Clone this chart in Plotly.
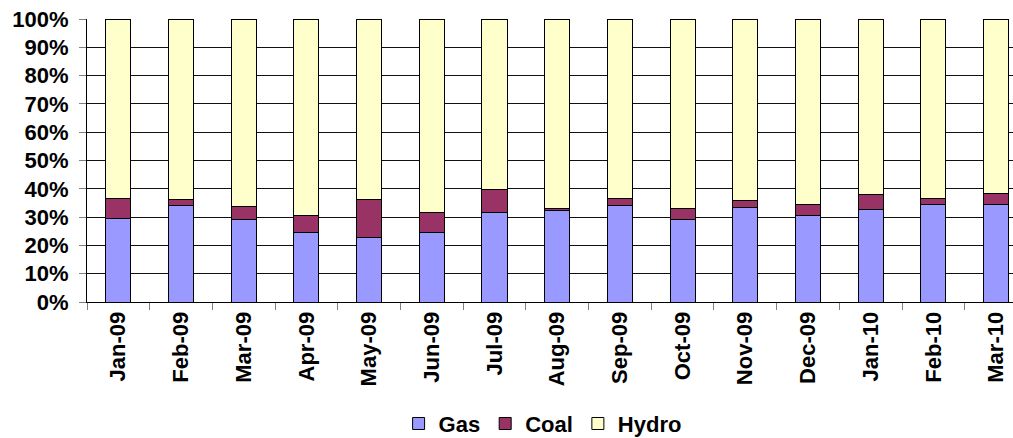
import plotly.graph_objects as go

months = ["Jan-09", "Feb-09", "Mar-09", "Apr-09", "May-09", "Jun-09", "Jul-09", "Aug-09",
          "Sep-09", "Oct-09", "Nov-09", "Dec-09", "Jan-10", "Feb-10", "Mar-10"]
gas = [29.4, 34.2, 29.2, 24.4, 22.7, 24.4, 31.8, 32.4, 34.0, 29.1, 33.5, 30.7, 32.8, 34.4, 34.4]
coal = [7.0, 2.0, 4.7, 6.1, 13.5, 7.4, 8.0, 0.8, 2.6, 4.0, 2.4, 3.8, 5.3, 2.2, 4.1]
hydro = [100 - g - c for g, c in zip(gas, coal)]

font_family = "Liberation Sans, Arial, sans-serif"
line = dict(color="black", width=1)

fig = go.Figure()
fig.add_trace(go.Bar(name="Gas", x=months, y=gas, marker=dict(color="#9999FF", line=line)))
fig.add_trace(go.Bar(name="Coal", x=months, y=coal, marker=dict(color="#993366", line=line)))
fig.add_trace(go.Bar(name="Hydro", x=months, y=hydro, marker=dict(color="#FFFFCC", line=line)))

fig.update_layout(
    barmode="stack",
    bargap=0.6,
    width=1013, height=438,
    margin=dict(l=87, r=0, t=19, b=136, autoexpand=False),
    paper_bgcolor="white", plot_bgcolor="white",
    font=dict(family=font_family, size=22, color="black"),
    legend=dict(orientation="h", x=0.492, xanchor="center", y=-0.43, yanchor="middle",
                font=dict(family=font_family, size=22, color="black", weight="bold"),
                traceorder="normal", itemwidth=30, tracegroupgap=0),
    showlegend=True,
)
fig.update_xaxes(
    range=[-0.5, 14.27],
    automargin=False,
    tickangle=-90,
    tickson="boundaries",
    ticks="outside", ticklen=7, tickcolor="#808080",
    showline=True, linecolor="black", linewidth=1,
    showgrid=False,
    tickfont=dict(family=font_family, size=22, color="black", weight="bold"),
)
fig.update_yaxes(
    range=[0, 100],
    automargin=False,
    tickvals=[0, 10, 20, 30, 40, 50, 60, 70, 80, 90, 100],
    ticktext=[f"{v}%" for v in range(0, 101, 10)],
    ticks="outside", ticklen=7, tickcolor="#808080",
    showline=True, linecolor="black", linewidth=1,
    showgrid=True, gridcolor="#111111", gridwidth=1,
    zeroline=False,
    ticklabelstandoff=6,
    tickfont=dict(family=font_family, size=22, color="black", weight="bold"),
)

fig.write_html("out.html", config={"displayModeBar": False},
               post_script="document.body.style.margin='0px';")
